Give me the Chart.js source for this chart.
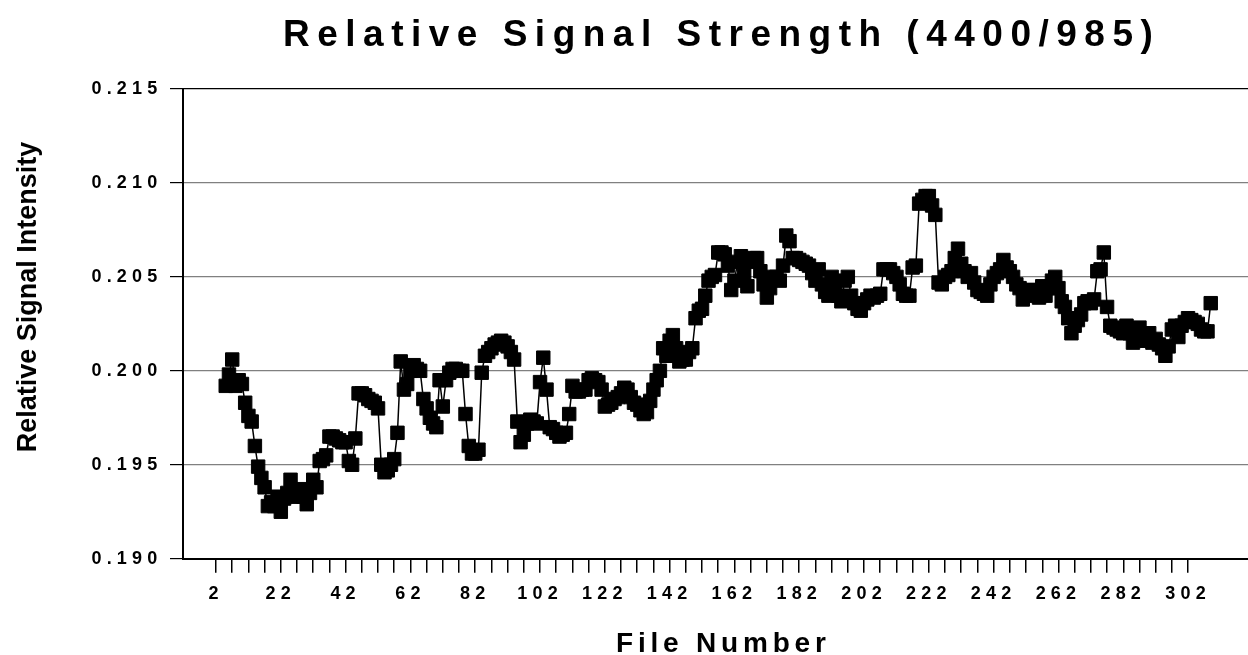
<!DOCTYPE html>
<html>
<head>
<meta charset="utf-8">
<title>Relative Signal Strength</title>
<script src="https://cdn.jsdelivr.net/npm/chart.js@4.4.1/dist/chart.umd.min.js"></script>
<style>
  html, body { margin: 0; padding: 0; background: #fff; }
  canvas { display: block; }
</style>
</head>
<body>
<canvas id="signalChart" width="1248" height="655"></canvas>
<script>
// Chart texts
const chartTitle = 'Relative Signal Strength (4400/985)';
const xTitle = 'File Number';
const yTitle = 'Relative Signal Intensity';

// x axis: labelled files and minor tick marks (every 5 files)
const xLabelFiles = [2, 22, 42, 62, 82, 102, 122, 142, 162, 182, 202, 222, 242, 262, 282, 302];
const xTickFiles = [];
for (let f = 2; f <= 302; f += 5) xTickFiles.push(f);

// y axis ticks
const yTickValues = [0.190, 0.195, 0.200, 0.205, 0.210, 0.215];

// first file number in the series
const firstFile = 5;

// relative signal intensity, one value per file (files 5 .. 309)
const signal = [
  0.1992, 0.1998, 0.2006, 0.1992, 0.1995, 0.1993, 0.1983, 0.1976, 0.1973, 0.1960,
  0.1949, 0.1943, 0.1938, 0.1928, 0.1930, 0.1928, 0.1933, 0.1925, 0.1932, 0.1935,
  0.1942, 0.1935, 0.1933, 0.1937, 0.1933, 0.1929, 0.1935, 0.1942, 0.1938, 0.1952,
  0.1953, 0.1955, 0.1965, 0.1965, 0.1964, 0.1963, 0.1962, 0.1962, 0.1952, 0.1950,
  0.1964, 0.1988, 0.1988, 0.1987, 0.1985, 0.1984, 0.1983, 0.1980, 0.1950, 0.1946,
  0.1947, 0.1950, 0.1953, 0.1967, 0.2005, 0.1990, 0.1993, 0.2000, 0.2003, 0.2001,
  0.2000, 0.1985, 0.1980, 0.1975, 0.1972, 0.1970, 0.1995, 0.1981, 0.1995, 0.1999,
  0.2001, 0.2001, 0.2000, 0.2000, 0.1977, 0.1960, 0.1956, 0.1956, 0.1958, 0.1999,
  0.2008, 0.2010, 0.2012, 0.2014, 0.2015, 0.2016, 0.2015, 0.2013, 0.2010, 0.2006,
  0.1973, 0.1962, 0.1966, 0.1972, 0.1974, 0.1973, 0.1972, 0.1994, 0.2007, 0.1990,
  0.1970, 0.1969, 0.1967, 0.1965, 0.1966, 0.1967, 0.1977, 0.1992, 0.1989, 0.1989,
  0.1990, 0.1990, 0.1995, 0.1996, 0.1995, 0.1994, 0.1990, 0.1981, 0.1982, 0.1983,
  0.1985, 0.1986, 0.1988, 0.1991, 0.1990, 0.1986, 0.1983, 0.1982, 0.1979, 0.1977,
  0.1978, 0.1984, 0.1990, 0.1995, 0.2000, 0.2012, 0.2008, 0.2016, 0.2019, 0.2012,
  0.2005, 0.2006, 0.2006, 0.2010, 0.2012, 0.2028, 0.2032, 0.2033, 0.2040, 0.2048,
  0.2050, 0.2051, 0.2063, 0.2063, 0.2062, 0.2056, 0.2043, 0.2048, 0.2058, 0.2061,
  0.2051, 0.2045, 0.2058, 0.2060, 0.2060, 0.2053, 0.2046, 0.2039, 0.2044, 0.2050,
  0.2050, 0.2048, 0.2056, 0.2072, 0.2069, 0.2060, 0.2060, 0.2059, 0.2058, 0.2057,
  0.2056, 0.2052, 0.2048, 0.2054, 0.2046, 0.2042, 0.2040, 0.2050, 0.2043, 0.2040,
  0.2037, 0.2048, 0.2050, 0.2040, 0.2036, 0.2033, 0.2032, 0.2036, 0.2038, 0.2040,
  0.2039, 0.2040, 0.2041, 0.2054, 0.2054, 0.2054, 0.2052, 0.2050, 0.2046, 0.2041,
  0.2040, 0.2040, 0.2055, 0.2056, 0.2089, 0.2091, 0.2093, 0.2093, 0.2088, 0.2083,
  0.2047, 0.2046, 0.2050, 0.2051, 0.2053, 0.2060, 0.2065, 0.2057, 0.2053, 0.2050,
  0.2052, 0.2047, 0.2043, 0.2042, 0.2041, 0.2040, 0.2046, 0.2050, 0.2052, 0.2054,
  0.2059, 0.2055, 0.2053, 0.2050, 0.2046, 0.2044, 0.2038, 0.2040, 0.2043, 0.2043,
  0.2042, 0.2039, 0.2045, 0.2040, 0.2044, 0.2048, 0.2050, 0.2044, 0.2037, 0.2034,
  0.2028, 0.2020, 0.2024, 0.2027, 0.2030, 0.2036, 0.2037, 0.2036, 0.2038, 0.2053,
  0.2054, 0.2063, 0.2034, 0.2024, 0.2023, 0.2022, 0.2021, 0.2020, 0.2024, 0.2020,
  0.2015, 0.2022, 0.2023, 0.2019, 0.2016, 0.2020, 0.2015, 0.2017, 0.2014, 0.2012,
  0.2008, 0.2013, 0.2022, 0.2024, 0.2018, 0.2024, 0.2026, 0.2028, 0.2027, 0.2026,
  0.2025, 0.2022, 0.2021, 0.2021, 0.2036
];

const fontFamily = '"Liberation Sans", Arial, Helvetica, sans-serif';

// spaced-out tick labels + the three titles
const textStyle = {
    id: 'textStyle',
    beforeDraw(chart) {
        chart.ctx.letterSpacing = '5.2px';
    },
    beforeDatasetsDraw(chart) {
        chart.ctx.letterSpacing = '0px';
    },
    afterDraw(chart) {
        const c = chart.ctx;
        c.save();
        c.fillStyle = '#000';
        c.textBaseline = 'alphabetic';

        c.font = 'bold 37px ' + fontFamily;
        c.letterSpacing = '7.5px';
        c.textAlign = 'left';
        c.fillText(chartTitle, 283, 46);

        c.font = 'bold 28px ' + fontFamily;
        c.letterSpacing = '4.8px';
        c.fillText(xTitle, 616, 652);

        c.font = 'bold 27px ' + fontFamily;
        c.letterSpacing = '0px';
        c.textAlign = 'center';
        c.translate(36, 297);
        c.rotate(-Math.PI / 2);
        c.fillText(yTitle, 0, 0);
        c.restore();
    }
};

const ctxSignal = document.getElementById('signalChart');

new Chart(ctxSignal, {
    type: 'line',
    data: {
        datasets: [{
            data: signal.map((v, i) => ({ x: firstFile + i, y: v })),
            borderColor: '#000',
            borderWidth: 1.5,
            pointStyle: 'rect',
            pointRadius: 9.5,
            pointBackgroundColor: '#000',
            pointBorderColor: '#000',
            pointBorderWidth: 1,
            tension: 0
        }]
    },
    options: {
        responsive: false,
        animation: false,
        layout: {
            autoPadding: false,
            padding: { top: 89, left: 0, right: 0, bottom: 0 }
        },
        plugins: {
            legend: { display: false },
            tooltip: { enabled: false },
            title: { display: false }
        },
        scales: {
            x: {
                type: 'linear',
                min: -8.19,
                max: 320.5,
                afterBuildTicks: s => { s.ticks = xTickFiles.map(v => ({ value: v })); },
                afterFit: s => {
                    s.height = 96.3;
                    s.paddingLeft = 0;
                    s.paddingRight = 0;
                },
                ticks: {
                    autoSkip: false,
                    maxRotation: 0,
                    color: '#000',
                    padding: 11,
                    font: { family: fontFamily, size: 18, weight: 'bold' },
                    callback: v => xLabelFiles.includes(v) ? String(v) : ''
                },
                grid: {
                    drawOnChartArea: false,
                    color: '#000',
                    tickLength: 14,
                    lineWidth: 1.5
                },
                border: { color: '#000', width: 2 }
            },
            y: {
                min: 0.190,
                max: 0.215,
                afterBuildTicks: s => { s.ticks = yTickValues.map(v => ({ value: v })); },
                afterFit: s => {
                    s.width = 183;
                    s.paddingTop = 0;
                    s.paddingBottom = 0;
                },
                ticks: {
                    color: '#000',
                    padding: 7.5,
                    font: { family: fontFamily, size: 18, weight: 'bold' },
                    callback: v => v.toFixed(3)
                },
                grid: {
                    color: c => (c.tick && c.tick.value === 0.215) ? '#000' : '#808080',
                    tickColor: '#000',
                    tickLength: 13,
                    lineWidth: 1.2
                },
                border: { color: '#000', width: 2 }
            }
        }
    },
    plugins: [textStyle]
});
</script>
</body>
</html>
